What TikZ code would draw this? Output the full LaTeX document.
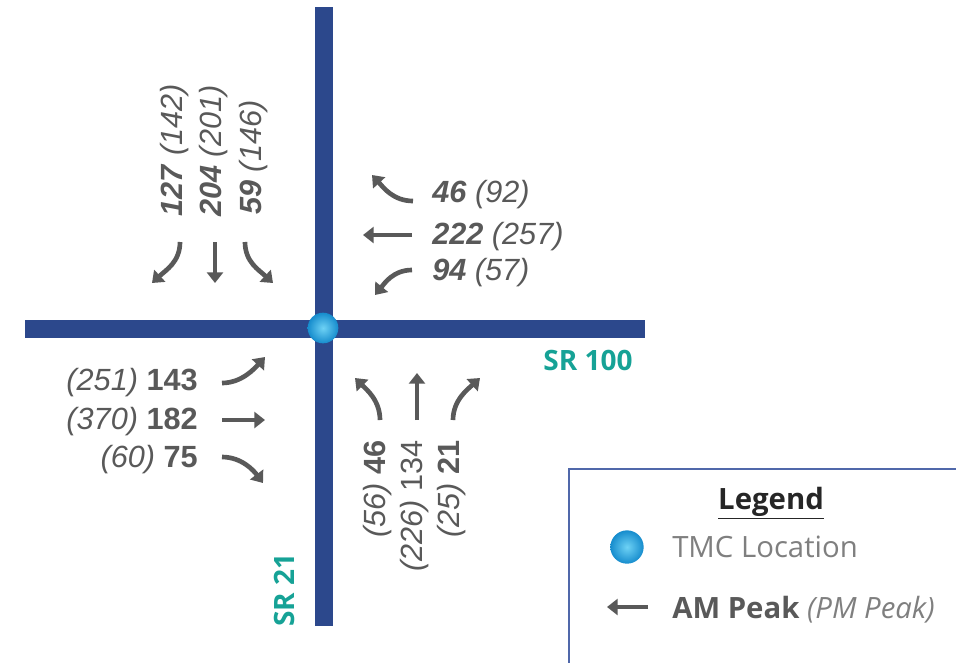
\documentclass[tikz,border=0pt]{standalone}
\usepackage{fontspec}
\setmainfont{Liberation Sans}
\newfontfamily\legendfont{Open Sans}
\usepackage{xcolor}
\usetikzlibrary{arrows.meta,shapes.geometric}

\definecolor{roadblue}{RGB}{44,72,140}
\definecolor{srteal}{RGB}{22,162,150}
\definecolor{volgray}{RGB}{89,89,89}
\definecolor{softgray}{RGB}{127,127,127}
\definecolor{boxblue}{RGB}{80,104,170}
\definecolor{tmcblue}{RGB}{22,140,205}
\definecolor{tmclight}{RGB}{110,210,245}

\newcommand{\amvol}[1]{\textbf{\textit{#1}}}
\newcommand{\pmvol}[1]{\textit{#1}}

\begin{document}
\begin{tikzpicture}[
  x=0.75pt,y=-0.75pt,
  road/.style={roadblue,line width=13.5pt},
  vol/.style={font=\fontsize{23}{23}\selectfont,text=volgray,inner sep=0pt},
  mov/.style={-{Triangle[length=8pt,width=12pt]},line width=3.5pt,volgray},
  srlabel/.style={font=\legendfont\bfseries\fontsize{21}{21}\selectfont,text=srteal,inner sep=0pt},
  legtext/.style={font=\legendfont\fontsize{22}{22}\selectfont,inner sep=0pt},
  tmc/.style={circle,inner color=tmclight,outer color=tmcblue,inner sep=0pt,minimum size=#1},
  tmc/.default=23pt
]
  \useasboundingbox (0,0) rectangle (956,662);

  % roads
  \draw[road] (324,7) -- (324,626);
  \draw[road] (25,329) -- (645,329);
  \node[tmc] (tmc) at (323,328) {};

  \node[srlabel] (sr100) at (588,360) {SR 100};
  \node[srlabel,rotate=90] (sr21) at (284,590) {SR 21};

  % southbound
  \node[vol,rotate=90,anchor=west] (sbr) at (175,217) {\amvol{127} \pmvol{(142)}};
  \node[vol,rotate=90,anchor=west] (sbt) at (214,217) {\amvol{204} \pmvol{(201)}};
  \node[vol,rotate=90,anchor=west] (sbl) at (254,215) {\amvol{59} \pmvol{(146)}};
  \draw[mov] (180,242) .. controls (180,262) and (166,270) .. (152,283);
  \draw[mov] (215,242) -- (215,283);
  \draw[mov] (245,242) .. controls (245,262) and (259,270) .. (273,283);

  % westbound
  \node[vol,anchor=west] (wbr) at (432,195) {\amvol{46} \pmvol{(92)}};
  \node[vol,anchor=west] (wbt) at (432,237) {\amvol{222} \pmvol{(257)}};
  \node[vol,anchor=west] (wbl) at (432,273) {\amvol{94} \pmvol{(57)}};
  \draw[mov] (413,201) .. controls (393,201) and (383,187) .. (372,175);
  \draw[mov] (412,235) -- (363,235);
  \draw[mov] (412,270) .. controls (393,270) and (384,284) .. (375,295);

  % eastbound
  \node[vol,anchor=east] (ebl) at (198,383) {\pmvol{(251)} \textbf{143}};
  \node[vol,anchor=east] (ebt) at (198,422) {\pmvol{(370)} \textbf{182}};
  \node[vol,anchor=east] (ebr) at (198,460) {\pmvol{(60)} \textbf{75}};
  \draw[mov] (222,383) .. controls (242,383) and (255,368) .. (265,357);
  \draw[mov] (222,420) -- (265,420);
  \draw[mov] (222,457) .. controls (242,457) and (254,471) .. (263,483);

  % northbound
  \node[vol,rotate=90,anchor=east] (nbl) at (378,440) {\pmvol{(56)} \textbf{46}};
  \node[vol,rotate=90,anchor=east] (nbt) at (415,440) {\pmvol{(226)} 134};
  \node[vol,rotate=90,anchor=east] (nbr) at (452,440) {\pmvol{(25)} \textbf{21}};
  \draw[mov] (380,420) .. controls (380,400) and (366,389) .. (355,378);
  \draw[mov] (417,420) -- (417,373);
  \draw[mov] (453,420) .. controls (453,400) and (468,389) .. (480,378);

  % legend
  \draw[boxblue,line width=1.5pt] (569,469) rectangle (990,700);
  \node[legtext,font=\legendfont\bfseries\fontsize{22}{22}\selectfont,text=black!85] (legtitle) at (771,503) {\underline{Legend}};
  \node[tmc=25pt] (legball) at (627,547) {};
  \node[legtext,anchor=west,text=softgray] (legtmc) at (672,547) {TMC Location};
  \coordinate (legfrom) at (648,607);
  \coordinate (legto) at (607,607);
  \draw[mov] (legfrom) -- (legto);
  \node[legtext,anchor=west] (legpeak) at (672,610) {\textcolor{volgray}{\textbf{AM Peak}} \textcolor{softgray}{\textit{(PM Peak)}}};
\end{tikzpicture}
\end{document}
